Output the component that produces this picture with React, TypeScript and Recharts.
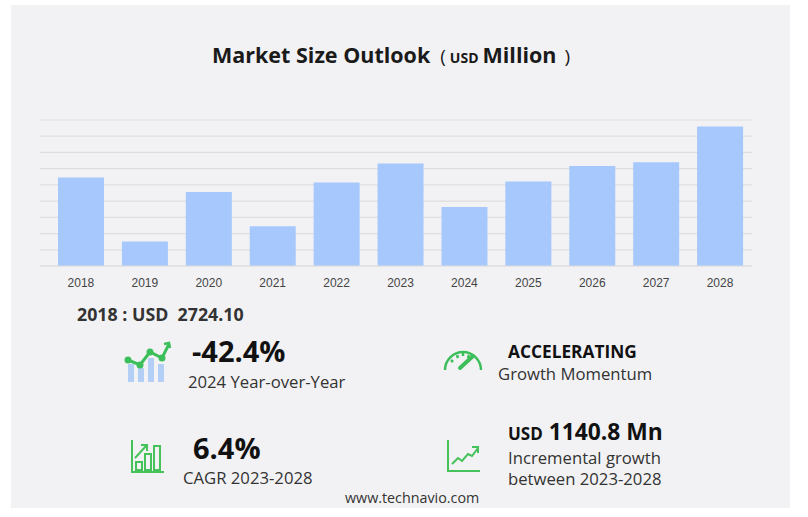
import React from 'react'
import { Bar, BarChart, CartesianGrid, XAxis, YAxis } from 'recharts'

// market size, USD million
const years = ['2018', '2019', '2020', '2021', '2022', '2023', '2024', '2025', '2026', '2027', '2028']
const marketSize = [2724.1, 752, 2281, 1224, 2570, 3160, 1820, 2601, 3082, 3196, 4300.8]
const gridTicks = [0, 500, 1000, 1500, 2000, 2500, 3000, 3500, 4000, 4500]

const chartData = years.map((year, i) => ({ year, value: marketSize[i] }))

const FONT = '"Open Sans", "Noto Sans", sans-serif'

const abs = (left: number, top: number, extra: React.CSSProperties = {}): React.CSSProperties => ({
  position: 'absolute',
  left,
  top,
  whiteSpace: 'nowrap',
  fontFamily: FONT,
  lineHeight: 1,
  color: '#222',
  ...extra,
})

const TrendIcon = () => (
  <svg width={48} height={48} viewBox="0 0 48 48">
    <rect x={4} y={26} width={6} height={18} fill="#b3cff5" />
    <rect x={14} y={30} width={6} height={14} fill="#b3cff5" />
    <rect x={24} y={20} width={6} height={24} fill="#b3cff5" />
    <rect x={34} y={26} width={6} height={18} fill="#b3cff5" />
    <polyline points="4,22 16,27 26,14 38,20 45,6" fill="none" stroke="#3cbf5a" strokeWidth={3} />
    <polyline points="40,6 45,5 46,10" fill="none" stroke="#3cbf5a" strokeWidth={2.5} />
    <circle cx={4} cy={22} r={3.5} fill="#3cbf5a" />
    <circle cx={16} cy={27} r={3.5} fill="#3cbf5a" />
    <circle cx={26} cy={14} r={3.5} fill="#3cbf5a" />
    <circle cx={38} cy={20} r={3.5} fill="#3cbf5a" />
  </svg>
)

const CagrIcon = () => (
  <svg width={36} height={36} viewBox="0 0 36 36" fill="none" stroke="#45c25a" strokeWidth={2}>
    <polyline points="2,2 2,34 34,34" />
    <rect x={6} y={24} width={6} height={8} />
    <rect x={15} y={16} width={6} height={16} />
    <rect x={24} y={8} width={6} height={24} />
    <polyline points="5,20 16,8" />
    <polyline points="11,7 17,7 17,13" />
  </svg>
)

const GaugeIcon = () => (
  <svg width={44} height={28} viewBox="0 0 44 28" fill="none" stroke="#3cbf5a" strokeWidth={2.5}>
    <path d="M4,24 A18,18 0 0 1 40,24" />
    <line x1={10} y1={14} x2={12} y2={16} />
    <line x1={16} y1={9} x2={17} y2={12} />
    <line x1={22} y1={7} x2={22} y2={10} />
    <line x1={28} y1={9} x2={27} y2={12} />
    <line x1={19} y1={22} x2={32} y2={10} strokeWidth={4} strokeLinecap="round" />
  </svg>
)

const GrowthIcon = () => (
  <svg width={36} height={36} viewBox="0 0 36 36" fill="none" stroke="#45c25a" strokeWidth={2}>
    <polyline points="2,2 2,33 34,33" />
    <polyline points="6,26 12,20 16,23 22,16 26,18 32,10" />
    <polyline points="26,9 32,9 32,15" />
  </svg>
)

const App: React.FC = () => {
  return (
    <div style={{ position: 'absolute', left: 0, top: 0, width: 808, height: 517, background: '#fff' }}>
      <div style={{ position: 'absolute', left: 11, top: 5, width: 779, height: 503, background: '#f2f2f4' }} />

      <div style={abs(212, 44.4, { fontSize: 21.5, fontWeight: 700, color: '#1a1a1a' })}>
        Market Size Outlook
        <span style={{ fontWeight: 400, fontSize: 19, marginLeft: 10 }}>(</span>
        <span style={{ fontSize: 14, fontWeight: 700, marginLeft: 4 }}>USD</span>
        <span style={{ marginLeft: 4 }}>Million</span>
        <span style={{ fontWeight: 400, fontSize: 19, marginLeft: 8 }}>)</span>
      </div>

      <div style={{ position: 'absolute', left: 0, top: 0 }}>
        <BarChart
          width={808}
          height={300}
          data={chartData}
          margin={{ top: 120, right: 56, left: 40, bottom: 4 }}
        >
          <CartesianGrid vertical={false} stroke="#dedede" strokeWidth={1.2} horizontalValues={gridTicks} />
          <YAxis hide domain={[0, 4500]} ticks={gridTicks} interval={0} />
          <XAxis
            dataKey="year"
            padding={{ left: 9, right: 0 }}
            axisLine={{ stroke: '#dedede' }}
            tickLine={false}
            tickMargin={6}
            height={30}
            tick={{ fill: '#444', fontSize: 12, fontFamily: '"Liberation Sans", Arial, sans-serif' }}
          />
          <Bar dataKey="value" fill="#a6c8fc" barSize={46} isAnimationActive={false} />
        </BarChart>
      </div>

      <div style={abs(77, 305.7, { fontSize: 17.8, fontWeight: 700, color: '#333' })}>
        2018 : USD&nbsp;&nbsp;2724.10
      </div>

      <div style={{ position: 'absolute', left: 124, top: 338 }}><TrendIcon /></div>
      <div style={abs(192, 336.2, { fontSize: 29, fontWeight: 700, color: '#111' })}>-42.4%</div>
      <div style={abs(188, 374, { fontSize: 16.7, color: '#333' })}>2024 Year-over-Year</div>

      <div style={{ position: 'absolute', left: 130, top: 438 }}><CagrIcon /></div>
      <div style={abs(193, 432.5, { fontSize: 29, fontWeight: 700, color: '#111' })}>6.4%</div>
      <div style={abs(183, 470, { fontSize: 16.7, color: '#333' })}>CAGR 2023-2028</div>

      <div style={{ position: 'absolute', left: 441, top: 346 }}><GaugeIcon /></div>
      <div style={abs(508, 342.6, { fontSize: 17.3, fontWeight: 700, color: '#111' })}>ACCELERATING</div>
      <div style={abs(498, 366, { fontSize: 16.7, color: '#333' })}>Growth Momentum</div>

      <div style={{ position: 'absolute', left: 446, top: 438 }}><GrowthIcon /></div>
      <div style={abs(508, 421.1, { fontSize: 22.8, fontWeight: 700, color: '#111' })}>
        <span style={{ fontSize: 17 }}>USD</span> 1140.8 Mn
      </div>
      <div style={abs(508, 450, { fontSize: 16.7, color: '#333' })}>Incremental growth</div>
      <div style={abs(508, 471, { fontSize: 16.7, color: '#333' })}>between 2023-2028</div>

      <div style={abs(345, 490.6, { fontSize: 14.3, color: '#333' })}>www.technavio.com</div>
    </div>
  )
}

export default App
